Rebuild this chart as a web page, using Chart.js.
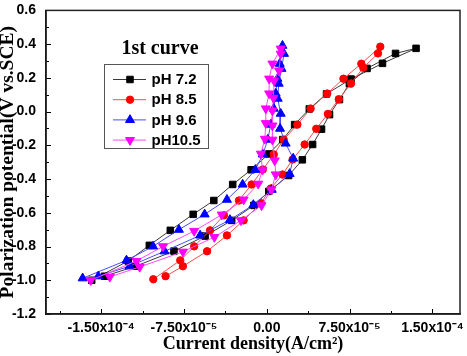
<!DOCTYPE html>
<html><head><meta charset="utf-8">
<script src="https://cdn.jsdelivr.net/npm/chart.js@4.4.1/dist/chart.umd.min.js"></script>
<style>html,body{margin:0;padding:0;background:#fff;overflow:hidden}canvas{display:block}</style>
</head><body>
<canvas id="c" width="467" height="356"></canvas>
<script>
// Series labels
const seriesLabels = ['pH 7.2', 'pH 8.5', 'pH 9.6', 'pH10.5'];

// Current density in units of 1e-6 A/cm^2, potential in V vs. SCE (points in scan order)
const ph72Current = [-158.6,-125.6,-106.4,-87.4,-66.7,-48.0,-30.9,-14.2,1.8,14.4,25.2,38.5,54.1,76.3,104.8,135.2,
                     116.6,90.8,74.8,65.8,56.8,49.6,41.5,32.2,19.8,1.8,-11.7,-31.8,-55.9,-84.1,-119.0,-146.9];
const ph72Potential = [-1.000,-0.886,-0.793,-0.704,-0.609,-0.527,-0.432,-0.345,-0.251,-0.166,-0.077,0.016,0.105,0.193,0.286,0.375,
                       0.345,0.256,0.166,0.071,-0.018,-0.104,-0.195,-0.286,-0.379,-0.473,-0.556,-0.645,-0.738,-0.827,-0.917,-0.976];

const ph85Current = [-102.8,-78.4,-65.8,-51.4,-38.8,-25.2,-13.8,-3.6,6.3,15.3,27.7,39.7,54.7,69.4,85.6,102.8,
                     100.7,87.4,76.3,65.2,55.3,44.8,34.3,23.4,14.2,3.6,-5.4,-21.0,-36.1,-54.1,-76.0,-91.7];
const ph85Potential = [-0.994,-0.882,-0.799,-0.704,-0.615,-0.527,-0.432,-0.343,-0.254,-0.166,-0.077,0.018,0.107,0.195,0.284,0.385,
                       0.345,0.260,0.167,0.073,-0.014,-0.102,-0.195,-0.284,-0.373,-0.456,-0.543,-0.645,-0.734,-0.828,-0.917,-0.976];

const ph96Current = [-166.8,-127.1,-103.0,-79.6,-56.3,-36.1,-21.9,-10.4,-3.6,0.9,3.6,6.3,8.1,9.6,11.7,14.2,
                     15.6,13.3,10.8,9.9,12.6,12.0,17.1,23.9,20.7,4.5,-12.2,-33.4,-60.4,-92.6,-124.4,-152.6];
const ph96Potential = [-0.988,-0.882,-0.799,-0.700,-0.609,-0.522,-0.432,-0.345,-0.254,-0.166,-0.077,0.018,0.107,0.195,0.284,0.391,
                       0.343,0.254,0.166,0.077,-0.012,-0.101,-0.189,-0.278,-0.369,-0.463,-0.553,-0.642,-0.734,-0.828,-0.917,-0.976];

const ph105Current = [-159.5,-118.1,-94.0,-65.8,-40.8,-21.0,-7.8,-3.9,-5.4,-1.8,-0.9,-0.9,2.1,2.1,5.1,12.6,
                      12.6,11.1,6.6,6.0,5.1,5.1,5.1,7.2,8.1,4.2,-4.8,-23.4,-47.5,-76.0,-115.1,-142.2];
const ph105Potential = [-1.000,-0.886,-0.799,-0.708,-0.611,-0.522,-0.428,-0.345,-0.250,-0.162,-0.069,0.018,0.107,0.195,0.284,0.373,
                        0.343,0.243,0.183,0.081,0.006,-0.083,-0.167,-0.290,-0.373,-0.463,-0.556,-0.645,-0.744,-0.831,-0.921,-0.980];

// Tick values / labels
const xTickValues = [-1.5e-4, -7.5e-5, 0, 7.5e-5, 1.5e-4];
const xTickLabels = ['-1.50x10\u207B\u2074', '-7.50x10\u207B\u2075', '0.00', '7.50x10\u207B\u2075', '1.50x10\u207B\u2074'];
const xMinorTicks = [-1.875e-4, -1.125e-4, -3.75e-5, 3.75e-5, 1.125e-4];
const yTickValues = [-1.2, -1.0, -0.8, -0.6, -0.4, -0.2, 0.0, 0.2, 0.4, 0.6];
const yTickLabels = ['-1.2', '-1.0', '-0.8', '-0.6', '-0.4', '-0.2', '0.0', '0.2', '0.4', '0.6'];
const yMinorTicks = [-1.1, -0.9, -0.7, -0.5, -0.3, -0.1, 0.1, 0.3, 0.5];

const toPoints = (cur, pot) => cur.map((c, i) => ({ x: c * 1e-6, y: pot[i] }));

const styles = [
  { line: '#3a3a3a', mark: '#000000', style: 'rect', radius: 4.6, rotation: 0 },
  { line: '#ff4a4a', mark: '#ff0000', style: 'circle', radius: 3.7, rotation: 0 },
  { line: '#4a4aff', mark: '#0000ff', style: 'triangle', radius: 5.2, rotation: 0 },
  { line: '#ff4aff', mark: '#ff00ff', style: 'triangle', radius: 5.2, rotation: 180 }
];
const seriesData = [
  toPoints(ph72Current, ph72Potential),
  toPoints(ph85Current, ph85Potential),
  toPoints(ph96Current, ph96Potential),
  toPoints(ph105Current, ph105Potential)
];

const datasets = seriesData.map((d, i) => ({
  label: seriesLabels[i],
  data: d,
  showLine: true,
  tension: 0,
  borderColor: styles[i].line,
  borderWidth: 1,
  pointStyle: styles[i].style,
  pointRotation: styles[i].rotation,
  pointRadius: styles[i].radius,
  pointBackgroundColor: styles[i].mark,
  pointBorderColor: styles[i].mark,
  pointBorderWidth: 1,
  order: 4 - i
}));

const framePlugin = {
  id: 'frame',
  beforeDatasetsDraw(chart) {
    const { ctx, chartArea: a, scales } = chart;
    ctx.save();
    ctx.strokeStyle = '#000';
    ctx.lineWidth = 1;
    const tick = (x1, y1, x2, y2) => { ctx.beginPath(); ctx.moveTo(x1, y1); ctx.lineTo(x2, y2); ctx.stroke(); };
    xTickValues.forEach(v => { const p = Math.round(scales.x.getPixelForValue(v)) + 0.5; tick(p, a.bottom, p, a.bottom - 5); });
    xMinorTicks.forEach(v => { const p = Math.round(scales.x.getPixelForValue(v)) + 0.5; tick(p, a.bottom, p, a.bottom - 3); });
    yTickValues.forEach(v => { const p = Math.round(scales.y.getPixelForValue(v)) + 0.5; tick(a.left, p, a.left + 5, p); });
    yMinorTicks.forEach(v => { const p = Math.round(scales.y.getPixelForValue(v)) + 0.5; tick(a.left, p, a.left + 3, p); });
    ctx.lineWidth = 1.5;
    ctx.strokeStyle = '#222';
    ctx.strokeRect(a.left, a.top, a.right - a.left, a.bottom - a.top);
    ctx.restore();
  },
  afterDraw(chart) {
    const { ctx } = chart;
    ctx.save();
    // annotation title
    ctx.fillStyle = '#000';
    ctx.font = 'bold 20px "Liberation Serif", "Times New Roman", serif';
    ctx.textAlign = 'center';
    ctx.textBaseline = 'middle';
    ctx.fillText('1st curve', 160, 49);
    // legend box
    ctx.strokeStyle = '#555';
    ctx.lineWidth = 1;
    ctx.strokeRect(104.5, 64.5, 104, 84);
    chart.data.datasets.forEach((ds, i) => {
      const y = 79 + i * 20.2;
      ctx.strokeStyle = ds.borderColor;
      ctx.lineWidth = 1;
      ctx.beginPath(); ctx.moveTo(113, y + 0.5); ctx.lineTo(146, y + 0.5); ctx.stroke();
      ctx.fillStyle = ds.pointBackgroundColor;
      ctx.strokeStyle = ds.pointBorderColor;
      Chart.helpers.drawPoint(ctx, { pointStyle: ds.pointStyle, rotation: ds.pointRotation, radius: ds.pointRadius, borderWidth: 1 }, 130, y + 0.5);
      ctx.fillStyle = '#000';
      ctx.font = 'bold 15px "Liberation Sans", Arial, sans-serif';
      ctx.textAlign = 'left';
      ctx.textBaseline = 'middle';
      ctx.fillText(ds.label, 151.5, y + 1);
    });
    ctx.restore();
  }
};

new Chart(document.getElementById('c'), {
  type: 'scatter',
  data: { datasets },
  options: {
    responsive: false,
    animation: false,
    devicePixelRatio: 1,
    layout: { padding: { top: 10, right: 7, left: 0, bottom: 0 } },
    plugins: { legend: { display: false }, tooltip: { enabled: false } },
    scales: {
      x: {
        type: 'linear', min: -2e-4, max: 1.75e-4,
        afterBuildTicks: s => { s.ticks = xTickValues.map(v => ({ value: v })); },
        afterFit: s => { s.height = 42; },
        grid: { display: false },
        border: { display: true, color: '#000', width: 1.5 },
        ticks: {
          color: '#000', padding: -2, maxRotation: 0, autoSkip: false,
          font: { family: '"Liberation Sans", Arial, sans-serif', size: 14, weight: 'bold' },
          callback: (v, i) => xTickLabels[i]
        },
        title: {
          display: true, text: 'Current density(A/cm\u00B2)', color: '#000',
          font: { family: '"Liberation Serif", "Times New Roman", serif', size: 18, weight: 'bold' },
          padding: { top: 0, bottom: 1 }
        }
      },
      y: {
        type: 'linear', min: -1.2, max: 0.6,
        afterBuildTicks: s => { s.ticks = yTickValues.map(v => ({ value: v })); },
        afterFit: s => { s.width = 46; },
        grid: { display: false },
        border: { display: true, color: '#000', width: 1.5 },
        ticks: {
          color: '#000', padding: 2, autoSkip: false,
          font: { family: '"Liberation Sans", Arial, sans-serif', size: 14, weight: 'bold' },
          callback: (v, i) => yTickLabels[i]
        },
        title: {
          display: true, text: 'Polarization potential(V vs.SCE)', color: '#000',
          font: { family: '"Liberation Serif", "Times New Roman", serif', size: 19.5, weight: 'bold', lineHeight: 0.8 },
          padding: { top: 0, bottom: 0 }
        }
      }
    }
  },
  plugins: [framePlugin]
});
</script>
</body></html>
